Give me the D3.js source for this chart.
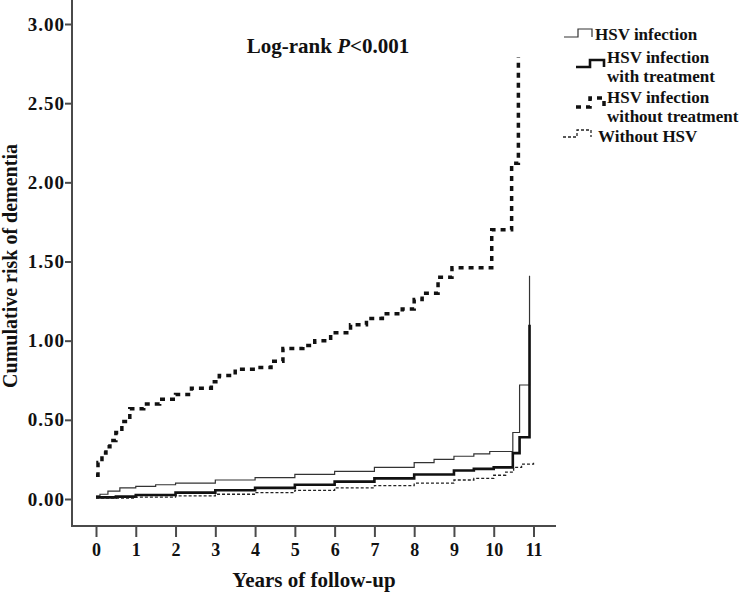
<!DOCTYPE html>
<meta charset="utf-8">
<script src="https://d3js.org/d3.v7.min.js"></script>
<style>
  body { margin: 0; background: #fff; }
  text { font-family: "Liberation Serif", "Times New Roman", serif; font-weight: bold; fill: #111; }
</style>
<body>
<script>
// Years of follow-up ticks and y ticks
var xTicks = [0, 1, 2, 3, 4, 5, 6, 7, 8, 9, 10, 11];
var yTicks = [0, 0.5, 1, 1.5, 2, 2.5, 3];

// Step curves: [year, cumulative risk]
var hsvAll = [[0,0.02],[0.1,0.03],[0.3,0.05],[0.6,0.07],[1,0.08],[1.5,0.09],[2,0.10],[3,0.12],[4,0.135],
  [5,0.155],[6,0.175],[7,0.20],[8,0.23],[8.5,0.25],[9,0.27],[9.5,0.285],[9.9,0.30],[10.48,0.42],[10.65,0.72],[10.9,1.41]];
var hsvTreated = [[0,0.01],[0.5,0.015],[1,0.025],[2,0.04],[3,0.055],[4,0.07],[5,0.09],[6,0.11],[7,0.13],
  [8,0.155],[9,0.18],[9.5,0.19],[10,0.20],[10.48,0.29],[10.65,0.39],[10.9,1.10]];
var hsvUntreated = [[0,0.15],[0.05,0.23],[0.15,0.29],[0.25,0.33],[0.35,0.37],[0.5,0.42],[0.65,0.49],[0.85,0.57],
  [1.2,0.60],[1.6,0.63],[2.0,0.66],[2.4,0.70],[2.9,0.74],[3.1,0.78],[3.5,0.82],[4.0,0.83],[4.4,0.87],[4.7,0.95],
  [5.2,0.97],[5.5,1.0],[5.9,1.05],[6.4,1.10],[6.8,1.14],[7.2,1.17],[7.7,1.20],[8.0,1.26],[8.2,1.30],[8.6,1.40],
  [8.95,1.46],[9.95,1.70],[10.45,2.12],[10.62,2.79]];
var noHsv = [[0,0.005],[1,0.012],[2,0.02],[3,0.03],[4,0.04],[5,0.055],[6,0.07],[7,0.085],[8,0.10],[9,0.12],
  [9.5,0.13],[10,0.15],[10.3,0.17],[10.5,0.20],[10.7,0.22],[11,0.24]];

var legendLabels = [["HSV infection"], ["HSV infection", "with treatment"], ["HSV infection", "without treatment"], ["Without HSV"]];

var width = 742, height = 593;
var svg = d3.select("body").append("svg")
  .attr("width", width).attr("height", height);

// scales
var x = d3.scaleLinear().domain([0, 11]).range([96, 533.5]);
var y = d3.scaleLinear().domain([0, 3]).range([499, 24]);

var axisColor = "#4a4a4a";

// axis lines
svg.append("line").attr("x1", 72).attr("x2", 72).attr("y1", 0).attr("y2", 526)
  .attr("stroke", axisColor).attr("stroke-width", 2);
svg.append("line").attr("x1", 71).attr("x2", 556).attr("y1", 526).attr("y2", 526)
  .attr("stroke", axisColor).attr("stroke-width", 2);

var yAxis = svg.append("g").attr("transform", "translate(72,0)")
  .call(d3.axisLeft(y).tickValues(yTicks).tickFormat(d3.format(".2f")).tickSize(7).tickPadding(0));
yAxis.select(".domain").remove();
yAxis.selectAll("line").attr("stroke", axisColor).attr("stroke-width", 2);
yAxis.selectAll("text").style("font-size", "19px").style("letter-spacing", "1px").attr("fill", "#111");

var xAxis = svg.append("g").attr("transform", "translate(0,527)")
  .call(d3.axisBottom(x).tickValues(xTicks).tickSize(10).tickPadding(6));
xAxis.select(".domain").remove();
xAxis.selectAll("line").attr("stroke", axisColor).attr("stroke-width", 2);
xAxis.selectAll("text").style("font-size", "18px").attr("fill", "#111");

// axis titles
svg.append("text").attr("x", 314).attr("y", 587).attr("text-anchor", "middle")
  .style("font-size", "21px").text("Years of follow-up");
svg.append("text").attr("transform", "translate(17,266) rotate(-90)").attr("text-anchor", "middle")
  .style("font-size", "20px").text("Cumulative risk of dementia");

// log-rank annotation
var lr = svg.append("text").attr("x", 328).attr("y", 53).attr("text-anchor", "middle").style("font-size", "21px");
lr.append("tspan").text("Log-rank ");
lr.append("tspan").style("font-style", "italic").text("P");
lr.append("tspan").text("<0.001");

// lines
var line = d3.line().x(function(d) { return x(d[0]); }).y(function(d) { return y(d[1]); }).curve(d3.curveStepAfter);

var series = [
  {data: hsvAll, width: 1.2, dash: null, color: "#333"},
  {data: hsvTreated, width: 2.6, dash: null, color: "#111"},
  {data: hsvUntreated, width: 3.5, dash: "5,5", color: "#111"},
  {data: noHsv, width: 1.3, dash: "3,2", color: "#222"}
];

svg.selectAll(".curve").data(series).enter().append("path")
  .attr("class", "curve")
  .attr("d", function(d) { return line(d.data); })
  .attr("fill", "none")
  .attr("stroke", function(d) { return d.color; })
  .attr("stroke-width", function(d) { return d.width; })
  .attr("stroke-dasharray", function(d) { return d.dash; });

// legend: symbol x, low y, high y, text x, text baseline
var legendPos = [
  {sx: 564, lo: 37, hi: 29, tx: 595, ty: 40},
  {sx: 576, lo: 67, hi: 60, tx: 607, ty: 63},
  {sx: 576, lo: 107, hi: 98, tx: 607, ty: 103},
  {sx: 563, lo: 137, hi: 130, tx: 598, ty: 142}
];
legendLabels.forEach(function(lab, i) {
  var p = legendPos[i], s = series[i];
  var d = "M" + p.sx + "," + p.lo + "H" + (p.sx + 14) + "V" + p.hi + "H" + (p.sx + 28) + "V" + p.lo;
  svg.append("path").attr("d", d)
    .attr("fill", "none").attr("stroke", s.color)
    .attr("stroke-width", s.width).attr("stroke-dasharray", s.dash);
  lab.forEach(function(l, j) {
    svg.append("text").attr("x", p.tx).attr("y", p.ty + j * 19)
      .style("font-size", "17px").text(l);
  });
});
</script>
</body>
</html>
